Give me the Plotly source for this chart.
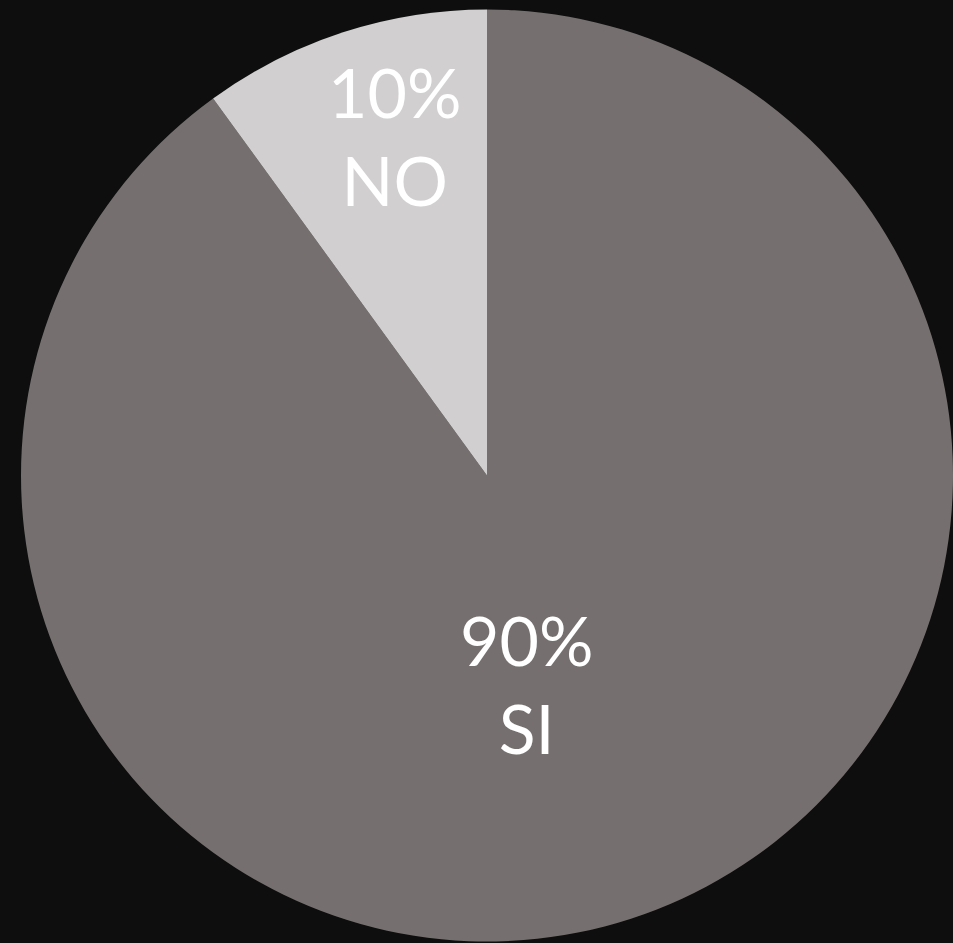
import math
import plotly.graph_objects as go

labels = ["SI", "NO"]
values = [90, 10]
colors = ["#75706f", "#d1cfd0"]

W, H = 953, 943
ml, mr, mt, mb = 21, 0, 8, 0
pw, ph = W - ml - mr, H - mt - mb
R = min(pw, ph) / 2
BG = "#0e0e0e"

fig = go.Figure(go.Pie(
    labels=labels, values=values, sort=False, direction="clockwise", rotation=0,
    marker=dict(colors=colors, line=dict(width=0)),
    textinfo="none", hoverinfo="label+percent", showlegend=False,
))

# label placement: (angle offset deg from slice midpoint, radius fraction)
label_pos = {"SI": (7.3, 0.455), "NO": (2.8, 0.755)}
total = sum(values)
start = 0.0
annos = []
for lab, v in zip(labels, values):
    frac = v / total
    mid = start + frac * 360 / 2
    start += frac * 360
    off, rf = label_pos[lab]
    a = math.radians(mid + off)
    dx = math.sin(a) * R * rf
    dy = math.cos(a) * R * rf
    annos.append(dict(
        x=0.5 + dx / pw, y=0.5 + dy / ph, xref="paper", yref="paper",
        text=f"{round(frac*100)}%<br>{lab}", showarrow=False,
        font=dict(family="Lato, sans-serif", size=68, color="#ffffff"),
        xanchor="center", yanchor="middle", align="center",
    ))

fig.update_layout(
    width=W, height=H,
    margin=dict(l=ml, r=mr, t=mt, b=mb),
    paper_bgcolor=BG, plot_bgcolor=BG,
    annotations=annos,
)
fig.write_html(
    "out.html",
    config={"displayModeBar": False},
    post_script=f"document.body.style.margin='0';document.body.style.background='{BG}';",
)
